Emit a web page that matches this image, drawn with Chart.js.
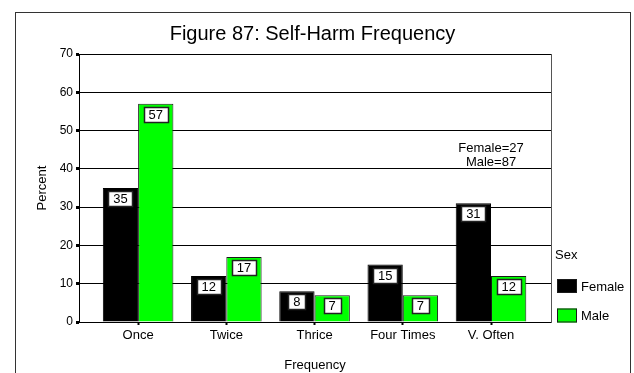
<!DOCTYPE html>
<html>
<head>
<meta charset="utf-8">
<script src="https://cdn.jsdelivr.net/npm/chart.js@4/dist/chart.umd.min.js"></script>
<style>
  html, body { margin: 0; padding: 0; background: #fff; overflow: hidden; }
  #frame { position: absolute; left: 15px; top: 12px; width: 616px; height: 420px;
           border: 1px solid #333; box-sizing: border-box; }
  #chart { position: absolute; left: 0; top: 0; }
</style>
</head>
<body>
<div id="frame"></div>
<canvas id="chart" width="634" height="373"></canvas>
<script>
// Self-harm frequency by sex (percent of respondents)
const categories = ['Once', 'Twice', 'Thrice', 'Four Times', 'V. Often'];
const female = [35, 12, 8, 15, 31];
const male = [57, 17, 7, 7, 12];
const seriesNames = ['Female', 'Male'];
const seriesColors = ['#000000', '#00ff00'];
const yMin = 0, yMax = 70, yStep = 10;
const sampleSizes = ['Female=27', 'Male=87'];
const legendTitle = 'Sex';

const FONT = 'Arial, "Liberation Sans", sans-serif';

const toPoints = vals => vals.map((v, i) => ({ x: i, y: v }));

// value boxes near the top of each bar
const valueBoxes = {
  id: 'valueBoxes',
  afterDatasetsDraw(chart) {
    const ctx = chart.ctx;
    ctx.save();
    ctx.font = '13px ' + FONT;
    ctx.textAlign = 'center';
    ctx.textBaseline = 'middle';
    chart.data.datasets.forEach((ds, di) => {
      const meta = chart.getDatasetMeta(di);
      meta.data.forEach((bar, i) => {
        const txt = String(ds.data[i].y);
        const w = Math.round(ctx.measureText(txt).width) + 10;
        const h = 15;
        const x = Math.round(bar.x - w / 2) + 0.5;
        const y = Math.round(bar.y + 3) + 0.5;
        ctx.fillStyle = '#fff';
        ctx.fillRect(x, y, w, h);
        ctx.strokeStyle = '#222';
        ctx.lineWidth = 1.5;
        ctx.strokeRect(x, y, w, h);
        ctx.fillStyle = '#000';
        ctx.fillText(txt, bar.x, y + h / 2 + 0.5);
      });
    });
    ctx.restore();
  }
};

// sample-size note and legend on the right
const sideNotes = {
  id: 'sideNotes',
  afterDraw(chart) {
    const ctx = chart.ctx;
    const area = chart.chartArea;
    const xs = chart.scales.x;
    ctx.save();
    ctx.font = '13px ' + FONT;
    ctx.fillStyle = '#000';
    ctx.textAlign = 'center';
    ctx.textBaseline = 'middle';
    const nx = xs.getPixelForValue(categories.length - 1);
    sampleSizes.forEach((t, i) => ctx.fillText(t, nx, 148 + i * 14.5));

    ctx.textAlign = 'left';
    const lx = area.right + 6;
    ctx.fillText(legendTitle, area.right + 4, area.bottom - 67);
    chart.data.datasets.forEach((ds, i) => {
      const top = area.bottom - 43 + i * 29.5;
      ctx.fillStyle = ds.backgroundColor;
      ctx.fillRect(lx, top, 20, 14);
      ctx.strokeStyle = '#1a1a1a';
      ctx.lineWidth = 1;
      ctx.strokeRect(lx + 0.5, top + 0.5, 19, 13);
      ctx.fillStyle = '#000';
      ctx.fillText(ds.label, lx + 24, top + 8);
    });
    ctx.restore();
  }
};

new Chart(document.getElementById('chart'), {
  type: 'bar',
  data: {
    datasets: [
      { label: seriesNames[0], data: toPoints(female), backgroundColor: seriesColors[0],
        borderColor: '#000', borderWidth: 1, borderSkipped: 'bottom' },
      { label: seriesNames[1], data: toPoints(male), backgroundColor: seriesColors[1],
        borderColor: '#1a1a1a', borderWidth: 1, borderSkipped: 'bottom' }
    ]
  },
  options: {
    responsive: false,
    animation: false,
    devicePixelRatio: 1,
    layout: { padding: { left: 0, right: 9, top: 0, bottom: 0 } },
    datasets: { bar: { categoryPercentage: 0.8, barPercentage: 1.0 } },
    plugins: {
      legend: { display: false },
      tooltip: { enabled: false },
      title: {
        display: true,
        text: 'Figure 87: Self-Harm Frequency',
        color: '#000',
        font: { family: FONT, size: 20, weight: 'normal', lineHeight: 1.2 },
        padding: { top: 22.5, bottom: 7.5 }
      }
    },
    scales: {
      x: {
        type: 'linear',
        position: 'bottom',
        offset: false,
        min: -0.67,
        max: 4.68,
        afterBuildTicks: axis => { axis.ticks = categories.map((c, i) => ({ value: i })); },
        afterFit: axis => { axis.height = 51; },
        ticks: {
          callback: v => categories[v],
          color: '#000',
          font: { family: FONT, size: 13 },
          padding: 3,
          maxRotation: 0,
          autoSkip: false
        },
        grid: { display: true, offset: false, drawOnChartArea: false, drawTicks: true,
                tickLength: 3, tickWidth: 2, tickColor: '#000' },
        border: { display: true, color: '#000', width: 1 },
        title: { display: true, text: 'Frequency', color: '#000',
                 font: { family: FONT, size: 13 }, padding: { top: 0, bottom: 0 } }
      },
      y: {
        position: 'left',
        min: yMin,
        max: yMax,
        afterFit: axis => { axis.width = 79; },
        ticks: { stepSize: yStep, color: '#000', font: { family: FONT, size: 12 }, padding: 3 },
        grid: { color: '#000', lineWidth: 1, tickLength: 3, tickWidth: 3, tickColor: '#000' },
        border: { display: true, color: '#000', width: 1 },
        title: { display: true, text: 'Percent', color: '#000',
                 font: { family: FONT, size: 13 }, padding: { top: 35, bottom: 0 } }
      },
      side: {
        type: 'linear',
        position: 'right',
        display: true,
        afterFit: axis => { axis.width = 74; },
        ticks: { display: false },
        grid: { display: false, drawTicks: false },
        border: { display: true, color: '#555', width: 1 }
      }
    }
  },
  plugins: [valueBoxes, sideNotes]
});
</script>
</body>
</html>
